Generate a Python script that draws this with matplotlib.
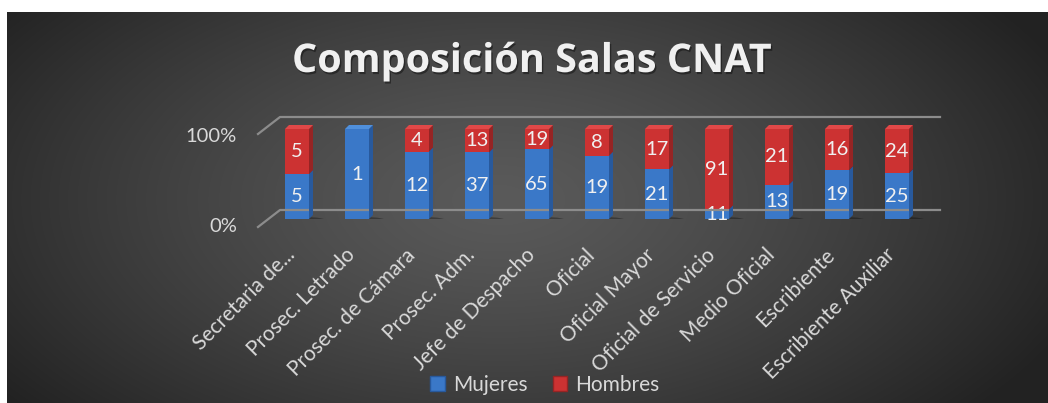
import numpy as np
import matplotlib
matplotlib.use('Agg')
import matplotlib.pyplot as plt
from matplotlib.patches import Polygon, Patch, Ellipse
from matplotlib.lines import Line2D
from matplotlib.transforms import ScaledTranslation, IdentityTransform
import matplotlib.patheffects as pe

# ---- data ----
categories = ["Secretaria de...", "Prosec. Letrado", "Prosec. de Cámara", "Prosec. Adm.",
              "Jefe de Despacho", "Oficial", "Oficial Mayor", "Oficial de Servicio",
              "Medio Oficial", "Escribiente", "Escribiente Auxiliar"]
mujeres = [5, 1, 12, 37, 65, 19, 21, 11, 13, 19, 25]
hombres = [5, 0, 4, 13, 19, 8, 17, 91, 21, 16, 24]
series_names = ["Mujeres", "Hombres"]
y_ticks = [0, 1]
y_tick_labels = ["0%", "100%"]
title = "Composición Salas CNAT"

# ---- style ----
W, H = 1048, 403
FONT = ['Lato', 'DejaVu Sans']
blue = dict(front='#3A78C8', side='#28599C', top='#5090DC')
red = dict(front='#CC3232', side='#962424', top='#E04848')
txt_col = '#F0F0F0'
lab_col = '#D9D9D9'

fig = plt.figure(figsize=(W / 100, H / 100), dpi=100)
fig.patch.set_facecolor('white')

# background panel with radial gradient
bg = fig.add_axes([0, 0, 1, 1])
bg.set_xlim(0, W); bg.set_ylim(H, 0); bg.axis('off')
xs = np.arange(7, W) + 0.5
ys = np.arange(12, H) + 0.5
X, Y = np.meshgrid(xs, ys)
r = np.sqrt(((X - 500) / 620) ** 2 + ((Y - 200) / 330) ** 2)
v = 0x5a - (0x5a - 0x22) * np.clip(r, 0, 1) ** 1.3
img = np.dstack([v, v, v]) / 255.0
bg.imshow(img, extent=(7, W, H, 12), interpolation='bilinear', aspect='auto')

# main plot axes (front faces of bars)
ax = fig.add_axes([267 / W, (H - 219) / H, 660 / W, 90 / H])
ax.set_xlim(-0.5, len(categories) - 0.5)
ax.set_ylim(0, 1)
ax.axis('off')
ax.patch.set_alpha(0)


def off(dx, dy):
    return ax.transData + ScaledTranslation(dx / 100, -dy / 100, fig.dpi_scale_trans)


def px(x, y, dx=0, dy=0):
    p = ax.transData.transform((x, y))
    return (p[0] + dx, p[1] - dy)


x0, x1 = ax.get_xlim()
# gridlines: back wall + left diagonal
for val in y_ticks:
    bdy = -9 - 3 * val
    fdy = 8 - 3 * val
    a = px(x0, val, 13, bdy)
    b = px(x1, val, 13, bdy)
    c = px(x0, val, -9, fdy)
    fig.add_artist(Line2D([c[0], a[0], b[0]], [c[1], a[1], b[1]], transform=IdentityTransform(),
                          color='#8C8C8C', lw=1.6, zorder=1))

w = 0.4
dep = (4, -4)
n = len(categories)
for i in range(n):
    tot = mujeres[i] + hombres[i]
    pm = mujeres[i] / tot
    ph = hombres[i] / tot
    # floor shadow
    ax.add_patch(Ellipse((i + 0.12, 0.0), 0.75, 0.09, transform=off(0, 2), facecolor='black',
                         alpha=0.3, edgecolor='none', zorder=1))
    segs = [(0, pm, blue, mujeres[i]), (pm, 1.0, red, hombres[i])]
    for (y0, y1, col, val) in segs:
        if y1 - y0 <= 0:
            continue
        ax.bar(i, y1 - y0, w, bottom=y0, color=col['front'], linewidth=0, zorder=3)
        side = [px(i + w / 2, y0), px(i + w / 2, y0, *dep), px(i + w / 2, y1, *dep), px(i + w / 2, y1)]
        fig.add_artist(Polygon(side, closed=True, transform=IdentityTransform(),
                               facecolor=col['side'], edgecolor='none', zorder=3))
        if y1 >= 1.0:
            top = [px(i - w / 2, 1), px(i + w / 2, 1), px(i + w / 2, 1, *dep), px(i - w / 2, 1, *dep)]
            fig.add_artist(Polygon(top, closed=True, transform=IdentityTransform(),
                                   facecolor=col['top'], edgecolor='none', zorder=3))
        ax.text(i, (y0 + y1) / 2, str(val), ha='center', va='center', color=txt_col,
                fontsize=14.5, family=FONT, zorder=5)

# y tick labels
for val, lab in zip(y_ticks, y_tick_labels):
    ax.text(x0, val, lab, transform=off(-30, 8), ha='right', va='center',
            fontsize=14.5, family=FONT, color=lab_col)

# x tick labels
for i, cat in enumerate(categories):
    ax.text(i, 0, cat, transform=off(-5, 33), rotation=45, rotation_mode='anchor',
            ha='right', va='center', fontsize=15, family=FONT, color=lab_col)

# legend
handles = [Patch(facecolor=blue['front'], edgecolor=blue['side']),
           Patch(facecolor=red['front'], edgecolor=red['side'])]
leg = fig.legend(handles, series_names, loc='center', bbox_to_anchor=(545 / W, (H - 385) / H),
                 ncol=2, frameon=False, handlelength=0.7, handleheight=0.7, handletextpad=0.4,
                 columnspacing=1.2, prop=dict(family=FONT, size=15), labelcolor=lab_col)

# title
fig.text(532 / W, (H - 72) / H, title, ha='center', va='baseline', fontsize=28.5, fontweight='bold',
         family=['Open Sans', 'DejaVu Sans'], color=txt_col,
         path_effects=[pe.withSimplePatchShadow(offset=(1, -1.5), shadow_rgbFace='black', alpha=0.4)])

fig.savefig('out.png', dpi=100)
